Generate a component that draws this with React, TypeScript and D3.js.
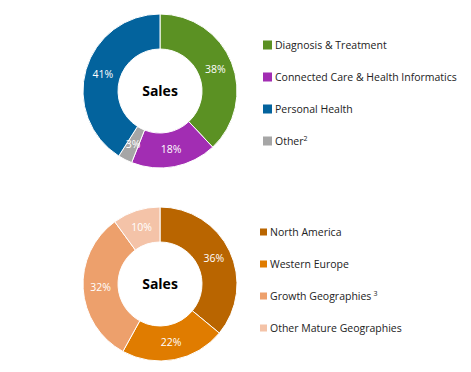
import React from "react";
import * as d3 from "d3";

// top donut: business segments (slice order, clockwise from 12 o'clock)
const segmentNames = ["Diagnosis & Treatment", "Connected Care & Health Informatics", "Other", "Personal Health"];
const segmentValues = [38, 18, 3, 41];
const segmentColors = ["#5b9123", "#a22db3", "#a6a6a6", "#03639d"];
const segmentLegendOrder = [0, 1, 3, 2];
const segmentSup = ["", "", "2", ""];

// bottom donut: geographies
const geoNames = ["North America", "Western Europe", "Growth Geographies", "Other Mature Geographies"];
const geoValues = [36, 22, 32, 10];
const geoColors = ["#b96500", "#e07c00", "#eda06c", "#f4c3a8"];
const geoSup = ["", "", "3", ""];

const centerLabel = "Sales";
const FONT = "'Open Sans', 'Liberation Sans', sans-serif";

function Donut(props: { cx: number; cy: number; values: number[]; colors: string[] }) {
  const { cx, cy, values, colors } = props;
  const arcs = d3.pie<number>().sort(null).value(d => d)(values);
  const arcGen = d3.arc<d3.PieArcDatum<number>>().innerRadius(42).outerRadius(77);
  return (
    <g transform={`translate(${cx},${cy})`}>
      {arcs.map((a, i) => (
        <path key={"arc" + i} d={arcGen(a) || ""} fill={colors[i]} stroke="#fff" strokeWidth={1} />
      ))}
      {arcs.map((a, i) => {
        const [x, y] = arcGen.centroid(a);
        return (
          <text key={"lbl" + i} x={x} y={y} dy="0.35em" textAnchor="middle" fill="#fff" fontSize={10.5} fontFamily={FONT}>
            {values[i] + "%"}
          </text>
        );
      })}
      <text y={0} dy="0.35em" textAnchor="middle" fontSize={14} fontWeight="bold" fill="#000" fontFamily={FONT}>
        {centerLabel}
      </text>
    </g>
  );
}

function Legend(props: { x: number; y: number; names: string[]; colors: string[]; sups: string[]; order: number[]; box: number; gap: number }) {
  const { x, y, names, colors, sups, order, box, gap } = props;
  return (
    <g transform={`translate(${x},${y})`}>
      {order.map((idx, row) => (
        <g key={"leg" + idx} transform={`translate(0,${row * 32})`}>
          <rect x={0} y={-box / 2} width={box} height={box} fill={colors[idx]} />
          <text x={box + gap} y={0} dy="0.35em" fontSize={10.5} fill="#222" fontFamily={FONT}>
            {names[idx]}
            {sups[idx] && (
              <tspan dx={idx === 2 && names === geoNames ? 2 : 0} dy={-4} fontSize={7}>{sups[idx]}</tspan>
            )}
          </text>
        </g>
      ))}
    </g>
  );
}

export default function App() {
  return (
    <svg width={471} height={372} style={{ position: "absolute", left: 0, top: 0, background: "#fff" }}>
      <Donut cx={160} cy={91} values={segmentValues} colors={segmentColors} />
      <Legend x={263} y={45} names={segmentNames} colors={segmentColors} sups={segmentSup} order={segmentLegendOrder} box={9} gap={3} />
      <Donut cx={160} cy={284} values={geoValues} colors={geoColors} />
      <Legend x={260} y={232} names={geoNames} colors={geoColors} sups={geoSup} order={[0, 1, 2, 3]} box={7} gap={3} />
    </svg>
  );
}
